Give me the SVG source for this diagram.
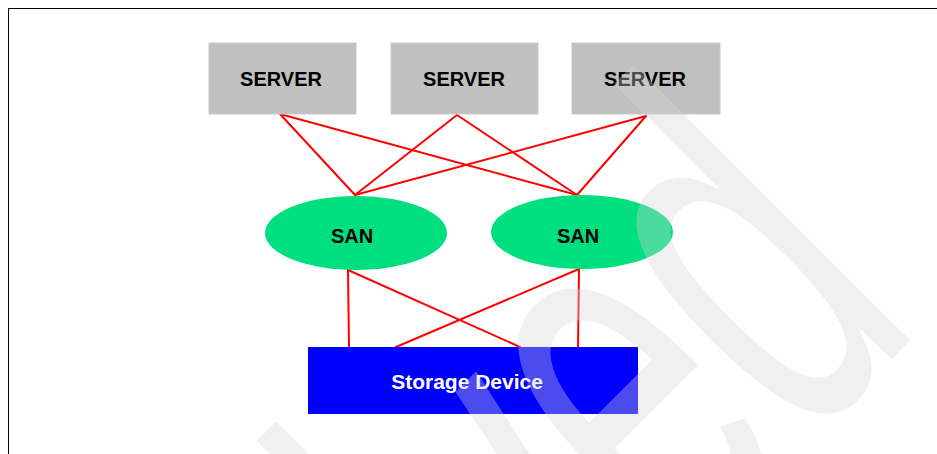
<svg xmlns="http://www.w3.org/2000/svg" width="937" height="454" viewBox="0 0 937 454">
  <style>
    .server { fill: #c0c0c0; stroke: #cacaca; stroke-width: 1; }
    .san { fill: #00df80; }
    .storage { fill: #0000ff; }
    .label { font-family: "Liberation Sans", Arial, sans-serif; font-weight: bold; font-size: 20px; text-anchor: middle; fill: #000000; }
    .label-light { fill: #ffffff; font-size: 21px; }
    .link { stroke: #ff0000; stroke-width: 2; fill: none; stroke-linecap: round; }
    .frame { stroke: #000000; stroke-width: 1; fill: none; shape-rendering: crispEdges; }
    .stamp { font-family: "Liberation Sans", Arial, sans-serif; font-size: 540px; fill: #d4d4d4; fill-opacity: 0.353; text-anchor: end; }
  </style>

  <rect x="0" y="0" width="937" height="454" fill="#ffffff"/>

  <!-- frame: top and left rules -->
  <g id="frame">
    <path class="frame" d="M8.5,454 V8.5 H937"/>
  </g>

  <!-- links between servers, SAN fabrics and storage -->
  <g id="connectors">
    <line class="link" x1="280" y1="114" x2="355" y2="195"/>
    <line class="link" x1="280" y1="114" x2="577" y2="195"/>
    <line class="link" x1="457" y1="115" x2="355" y2="195"/>
    <line class="link" x1="457" y1="115" x2="577" y2="195"/>
    <line class="link" x1="646" y1="116" x2="355" y2="195"/>
    <line class="link" x1="646" y1="116" x2="577" y2="195"/>
    <line class="link" x1="348" y1="270" x2="349" y2="347"/>
    <line class="link" x1="348" y1="270" x2="520" y2="347"/>
    <line class="link" x1="579" y1="269" x2="396" y2="347"/>
    <line class="link" x1="579" y1="269" x2="578" y2="347"/>
  </g>

  <g id="server1">
    <rect class="server" x="209" y="43" width="147" height="71"/>
    <text class="label" x="281" y="86">SERVER</text>
  </g>
  <g id="server2">
    <rect class="server" x="391" y="43" width="147" height="71"/>
    <text class="label" x="464" y="86">SERVER</text>
  </g>
  <g id="server3">
    <rect class="server" x="572" y="43" width="148" height="71"/>
    <text class="label" x="645" y="86">SERVER</text>
  </g>

  <g id="san1">
    <ellipse class="san" cx="356" cy="233" rx="91" ry="37"/>
    <text class="label" x="352" y="243">SAN</text>
  </g>
  <g id="san2">
    <ellipse class="san" cx="582" cy="232" rx="91" ry="37"/>
    <text class="label" x="578" y="243">SAN</text>
  </g>

  <g id="storage">
    <rect class="storage" x="308" y="347" width="330" height="67"/>
    <text class="label label-light" x="467" y="389">Storage Device</text>
  </g>

  <!-- diagonal stamp laid over the whole sheet, running off its lower edge -->
  <g id="stamp">
    <text class="stamp" transform="translate(925,326) rotate(-45) scale(0.58,1)" x="0" y="0">Archived</text>
  </g>
</svg>
